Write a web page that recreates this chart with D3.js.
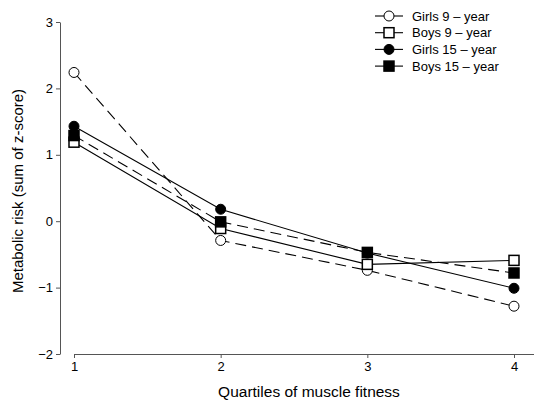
<!DOCTYPE html>
<html>
<head>
<meta charset="utf-8">
<script src="https://cdn.jsdelivr.net/npm/d3@7"></script>
<style>
  body { margin: 0; background: #fff; }
  text { font-family: "Liberation Sans", Arial, sans-serif; fill: #000; }
</style>
</head>
<body>
<div id="chart"></div>
<script>
var quartiles = [1, 2, 3, 4];
var yTicks = [-2, -1, 0, 1, 2, 3];
var seriesNames = ["Girls 9 \u2013 year", "Boys 9 \u2013 year", "Girls 15 \u2013 year", "Boys 15 \u2013 year"];
var girls9 = [2.24, -0.29, -0.74, -1.28];
var boys9 = [1.19, -0.11, -0.65, -0.59];
var girls15 = [1.43, 0.18, -0.48, -1.01];
var boys15 = [1.29, -0.01, -0.47, -0.78];

var series = [
  {name: seriesNames[0], values: girls9, shape: "circle", fill: "#fff", dash: "11,6"},
  {name: seriesNames[1], values: boys9, shape: "square", fill: "#fff", dash: null},
  {name: seriesNames[2], values: girls15, shape: "circle", fill: "#000", dash: null},
  {name: seriesNames[3], values: boys15, shape: "square", fill: "#000", dash: "11,6"}
];

var width = 534, height = 403;

var svg = d3.select("#chart").append("svg")
  .attr("width", width)
  .attr("height", height);

var x = d3.scaleLinear().domain([1, 4]).range([74, 514]);
var y = d3.scaleLinear().domain([-2, 3]).range([354, 22]);

// y axis
var yAxisGroup = svg.append("g")
  .attr("transform", "translate(60,0)")
  .call(d3.axisLeft(y).tickValues(yTicks).tickSize(4).tickSizeOuter(0)
    .tickFormat(function(d) { return d < 0 ? "\u2212" + Math.abs(d) : d; }));
yAxisGroup.selectAll("text").style("font-size", "13px").attr("x", -7);

// x axis
var xAxisGroup = svg.append("g")
  .attr("transform", "translate(0,354)")
  .call(d3.axisBottom(x).tickValues(quartiles).tickSize(4).tickSizeOuter(0)
    .tickFormat(d3.format("d")));
xAxisGroup.selectAll("text").style("font-size", "13px").attr("y", 8);
xAxisGroup.select(".domain").attr("d", "M74,0.5H534");

svg.selectAll(".domain, .tick line").attr("stroke", "#555");

// lines
var line = d3.line()
  .x(function(d, i) { return x(quartiles[i]); })
  .y(function(d) { return y(d); });

svg.selectAll(".series-line")
  .data(series)
  .enter()
  .append("path")
  .attr("class", "series-line")
  .attr("d", function(d) { return line(d.values); })
  .attr("fill", "none")
  .attr("stroke", "#000")
  .attr("stroke-width", 1.1)
  .attr("stroke-dasharray", function(d) { return d.dash; });

function drawMarker(g, shape, fill, cx, cy) {
  if (shape === "circle") {
    g.append("circle")
      .attr("cx", cx).attr("cy", cy).attr("r", 5)
      .attr("fill", fill).attr("stroke", "#000").attr("stroke-width", 1);
  } else {
    g.append("rect")
      .attr("x", cx - 5).attr("y", cy - 5)
      .attr("width", 10).attr("height", 10)
      .attr("fill", fill).attr("stroke", "#000").attr("stroke-width", 1.5);
  }
}

// markers
series.forEach(function(s) {
  var g = svg.append("g");
  s.values.forEach(function(v, i) {
    drawMarker(g, s.shape, s.fill, x(quartiles[i]), y(v));
  });
});

// legend
var legend = svg.append("g");
series.forEach(function(s, i) {
  var ly = 16 + i * 16.7;
  legend.append("line")
    .attr("x1", 375).attr("x2", 403)
    .attr("y1", ly).attr("y2", ly)
    .attr("stroke", "#000").attr("stroke-width", 1.1);
  drawMarker(legend, s.shape, s.fill, 389, ly);
  legend.append("text")
    .attr("x", 412).attr("y", ly + 4.5)
    .style("font-size", "13px")
    .text(s.name);
});

// axis titles
svg.append("text")
  .attr("x", 309)
  .attr("y", 397)
  .attr("text-anchor", "middle")
  .style("font-size", "15.5px")
  .text("Quartiles of muscle fitness");

svg.append("text")
  .attr("transform", "translate(23,191) rotate(-90)")
  .attr("text-anchor", "middle")
  .style("font-size", "15px")
  .text("Metabolic risk (sum of z-score)");
</script>
</body>
</html>
